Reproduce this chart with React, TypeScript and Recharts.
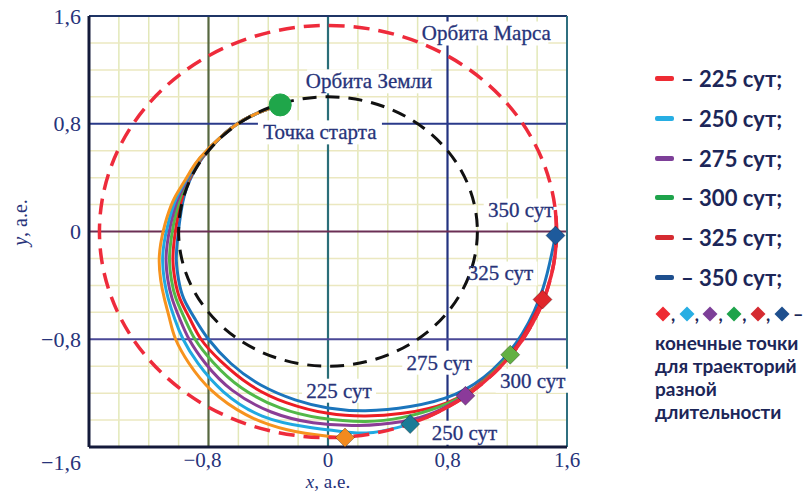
import { ComposedChart, XAxis, YAxis, Line, Scatter, ReferenceLine, ReferenceArea, ReferenceDot } from "recharts";

// axis ticks, a.u.
const axisTicks = [-1.6, -0.8, 0, 0.8, 1.6];
const xTicks = [-0.8, 0, 0.8, 1.6];
const minorTicks = [-1.4, -1.2, -1.0, -0.6, -0.4, -0.2, 0.2, 0.4, 0.6, 1.0, 1.2, 1.4];
const majorX = [-0.8, 0, 0.8];
const majorY = [0.8, 0, -0.8];

const earthOrbitR = 1.0;
const marsOrbitR = 1.53;
const marsSolidArc = [-69, 6]; // degrees, part of Mars orbit drawn solid

const startPoint = { x: -0.32, y: 0.94 };

const days = ["225", "250", "275", "300", "325", "350"];

const launchArc = [
  { x: -0.32, y: 0.94 },
  { x: -0.52, y: 0.855 },
  { x: -0.7, y: 0.72 },
];

const traj225 = [
  ...launchArc,
  { x: -0.856, y: 0.55 }, { x: -0.925, y: 0.44 }, { x: -0.985, y: 0.33 }, { x: -1.04, y: 0.22 },
  { x: -1.09, y: 0.06 }, { x: -1.12, y: -0.09 }, { x: -1.13, y: -0.22 }, { x: -1.12, y: -0.36 },
  { x: -1.095, y: -0.5 }, { x: -1.06, y: -0.65 }, { x: -1.02, y: -0.8 }, { x: -0.93, y: -0.98 },
  { x: -0.78, y: -1.18 }, { x: -0.55, y: -1.36 }, { x: -0.28, y: -1.47 }, { x: 0.0, y: -1.52 },
  { x: 0.114, y: -1.53 },
];
const traj250 = [
  ...launchArc,
  { x: -0.853, y: 0.55 }, { x: -0.92, y: 0.44 }, { x: -0.977, y: 0.33 }, { x: -1.026, y: 0.22 },
  { x: -1.07, y: 0.06 }, { x: -1.098, y: -0.09 }, { x: -1.107, y: -0.22 }, { x: -1.096, y: -0.36 },
  { x: -1.069, y: -0.5 }, { x: -1.026, y: -0.65 }, { x: -0.97, y: -0.8 }, { x: -0.87, y: -0.98 },
  { x: -0.7, y: -1.19 }, { x: -0.44, y: -1.37 }, { x: -0.15, y: -1.45 }, { x: 0.05, y: -1.48 },
  { x: 0.28, y: -1.495 }, { x: 0.55, y: -1.43 },
];
const traj275 = [
  ...launchArc,
  { x: -0.85, y: 0.55 }, { x: -0.915, y: 0.44 }, { x: -0.968, y: 0.33 }, { x: -1.012, y: 0.22 },
  { x: -1.052, y: 0.06 }, { x: -1.076, y: -0.09 }, { x: -1.084, y: -0.22 }, { x: -1.072, y: -0.36 },
  { x: -1.043, y: -0.5 }, { x: -0.992, y: -0.65 }, { x: -0.93, y: -0.8 }, { x: -0.82, y: -0.98 },
  { x: -0.64, y: -1.18 }, { x: -0.38, y: -1.34 }, { x: -0.1, y: -1.42 }, { x: 0.2, y: -1.44 },
  { x: 0.5, y: -1.41 }, { x: 0.72, y: -1.34 }, { x: 0.92, y: -1.22 },
];
const traj300 = [
  ...launchArc,
  { x: -0.846, y: 0.55 }, { x: -0.91, y: 0.44 }, { x: -0.96, y: 0.33 }, { x: -0.998, y: 0.22 },
  { x: -1.033, y: 0.06 }, { x: -1.054, y: -0.09 }, { x: -1.061, y: -0.22 }, { x: -1.048, y: -0.36 },
  { x: -1.017, y: -0.5 }, { x: -0.958, y: -0.65 }, { x: -0.89, y: -0.8 }, { x: -0.77, y: -0.97 },
  { x: -0.58, y: -1.16 }, { x: -0.32, y: -1.31 }, { x: -0.05, y: -1.385 }, { x: 0.25, y: -1.41 },
  { x: 0.5, y: -1.38 }, { x: 0.75, y: -1.3 }, { x: 1.0, y: -1.15 }, { x: 1.22, y: -0.915 },
];
const traj325 = [
  ...launchArc,
  { x: -0.842, y: 0.55 }, { x: -0.905, y: 0.44 }, { x: -0.952, y: 0.33 }, { x: -0.984, y: 0.22 },
  { x: -1.014, y: 0.06 }, { x: -1.032, y: -0.09 }, { x: -1.038, y: -0.22 }, { x: -1.024, y: -0.36 },
  { x: -0.991, y: -0.5 }, { x: -0.924, y: -0.65 }, { x: -0.85, y: -0.8 }, { x: -0.72, y: -0.96 },
  { x: -0.52, y: -1.14 }, { x: -0.28, y: -1.27 }, { x: 0.0, y: -1.35 }, { x: 0.25, y: -1.37 },
  { x: 0.5, y: -1.35 }, { x: 0.8, y: -1.27 }, { x: 1.05, y: -1.1 }, { x: 1.27, y: -0.84 },
  { x: 1.436, y: -0.505 },
];
const traj350 = [
  ...launchArc,
  { x: -0.838, y: 0.55 }, { x: -0.9, y: 0.44 }, { x: -0.944, y: 0.33 }, { x: -0.972, y: 0.22 },
  { x: -0.995, y: 0.06 }, { x: -1.01, y: -0.09 }, { x: -1.015, y: -0.22 }, { x: -1.0, y: -0.36 },
  { x: -0.965, y: -0.5 }, { x: -0.89, y: -0.65 }, { x: -0.8, y: -0.8 }, { x: -0.65, y: -0.98 },
  { x: -0.45, y: -1.14 }, { x: -0.22, y: -1.25 }, { x: 0.0, y: -1.31 }, { x: 0.25, y: -1.33 },
  { x: 0.55, y: -1.3 }, { x: 0.85, y: -1.21 }, { x: 1.1, y: -1.03 }, { x: 1.3, y: -0.76 },
  { x: 1.44, y: -0.42 }, { x: 1.523, y: -0.03 },
];
const trajectories = [traj225, traj250, traj275, traj300, traj325, traj350];

const endPoints = [
  { x: 0.114, y: -1.53 },
  { x: 0.55, y: -1.43 },
  { x: 0.92, y: -1.22 },
  { x: 1.22, y: -0.915 },
  { x: 1.436, y: -0.505 },
  { x: 1.523, y: -0.03 },
];

const annotations = [
  { text: "Орбита Марса", x: 1.06, y: 1.47 },
  { text: "Орбита Земли", x: 0.275, y: 1.115 },
  { text: "Точка старта", x: -0.054, y: 0.736 },
  { text: "350 сут", x: 1.29, y: 0.156 },
  { text: "325 сут", x: 1.154, y: -0.312 },
  { text: "275 сут", x: 0.745, y: -0.974 },
  { text: "300 сут", x: 1.37, y: -1.108 },
  { text: "225 сут", x: 0.074, y: -1.182 },
  { text: "250 сут", x: 0.913, y: -1.494 },
];

const curveColors = ["#f7931e", "#20a9e1", "#8a3d96", "#52b848", "#ed1c24", "#1b75bc"];
const markerColors = ["#f28a1e", "#1a7b96", "#8b3a9a", "#62b043", "#e0262b", "#1d5a9c"];
const legendColors = ["#ee2b33", "#27aee3", "#7d3f98", "#1ea34b", "#d52b31", "#1e4f8e"];

const serif = '"Liberation Serif", "Times New Roman", serif';
const ink = "#27337a";
const W = 811;
const H = 492;

const fmt = (v: number) =>
  v === 0 ? "0" : (v < 0 ? "\u2212" : "") + Math.abs(v).toFixed(1).replace(".", ",");

const XTick = ({ x, y, payload }: any) => (
  <text x={x + (payload.value < 0 ? -6 : 0)} y={y} dy="0.55em" textAnchor="middle" fontFamily={serif} fontSize={21} fill={ink}>
    {fmt(payload.value)}
  </text>
);

const YTick = ({ x, y, payload }: any) => (
  <text x={x} y={y + (payload.value === -1.6 ? 15 : 0)} dy="0.35em" textAnchor="end" fontFamily={serif} fontSize={22} fill={ink}>
    {fmt(payload.value)}
  </text>
);

const XTitle = (props: any) => {
  const vb = props.viewBox;
  return (
    <text x={vb.x + vb.width / 2} y={vb.y + 41} textAnchor="middle" fontFamily={serif} fontSize={19} fill={ink}>
      <tspan fontStyle="italic">x</tspan>, а.е.
    </text>
  );
};

const YTitle = (props: any) => {
  const vb = props.viewBox;
  const cx = vb.x + 20;
  const cy = vb.y + vb.height / 2 - 9;
  return (
    <text x={cx} y={cy} transform={`rotate(-90 ${cx} ${cy})`} textAnchor="middle" dominantBaseline="central" fontFamily={serif} fontSize={20} fill={ink}>
      <tspan fontStyle="italic">y</tspan>, а.е.
    </text>
  );
};

const orbitShape = (stroke: string, dash: string, width: number) => (p: any) => (
  <ellipse
    cx={p.x + p.width / 2}
    cy={p.y + p.height / 2}
    rx={p.width / 2}
    ry={p.height / 2}
    fill="none"
    stroke={stroke}
    strokeWidth={width}
    strokeDasharray={dash}
  />
);

const arcShape = (fromDeg: number, toDeg: number, stroke: string, width: number) => (p: any) => {
  const rx = p.width / 2;
  const ry = p.height / 2;
  const cx = p.x + rx;
  const cy = p.y + ry;
  const a0 = (fromDeg * Math.PI) / 180;
  const a1 = (toDeg * Math.PI) / 180;
  const x0 = cx + rx * Math.cos(a0);
  const y0 = cy - ry * Math.sin(a0);
  const x1 = cx + rx * Math.cos(a1);
  const y1 = cy - ry * Math.sin(a1);
  return <path d={`M${x0},${y0} A${rx},${ry} 0 0 0 ${x1},${y1}`} fill="none" stroke={stroke} strokeWidth={width} />;
};

const diamondShape = (p: any) => {
  const s = 9.5;
  const { cx, cy, fill } = p;
  return (
    <polygon
      points={`${cx},${cy - s} ${cx + s},${cy} ${cx},${cy + s} ${cx - s},${cy}`}
      fill={fill}
      stroke="rgba(0,0,0,0.3)"
      strokeWidth={1}
    />
  );
};

const boxShape = (text: string) => (p: any) => {
  const w = text.length * 10 + 4;
  return <rect x={p.cx - w / 2} y={p.cy - 12} width={w} height={24} fill="#fff" />;
};

const textShape = (text: string) => (p: any) => (
  <text x={p.cx} y={p.cy} dy="0.33em" textAnchor="middle" fontFamily={serif} fontSize={21} fill={ink} stroke={ink} strokeWidth={0.3}>
    {text}
  </text>
);

const SmallDiamond = ({ color }: { color: string }) => (
  <svg width={16} height={16} style={{ verticalAlign: "middle" }}>
    <polygon points="8,0.5 15.5,8 8,15.5 0.5,8" fill={color} />
  </svg>
);

export default function App() {
  // drawn from 350 to 225 so the orange curve lies on top along the shared launch arc
  const order = [5, 4, 3, 2, 1, 0];
  return (
    <div style={{ position: "absolute", left: 0, top: 0, width: W, height: H, background: "#fff" }}>
      <style>{"body{margin:0}"}</style>
      <ComposedChart width={W} height={H} margin={{ top: 16, right: 244, bottom: 0, left: 0 }}>
        <XAxis
          type="number"
          dataKey="x"
          domain={[-1.6, 1.6]}
          ticks={xTicks}
          allowDataOverflow
          height={45}
          tickLine={false}
          tick={<XTick />}
          axisLine={{ stroke: "#141a3a", strokeWidth: 3 }}
          label={{ content: <XTitle /> }}
        />
        <YAxis
          type="number"
          dataKey="y"
          domain={[-1.6, 1.6]}
          ticks={axisTicks}
          allowDataOverflow
          width={89}
          tickLine={false}
          tick={<YTick />}
          axisLine={{ stroke: "#141a3a", strokeWidth: 3 }}
          label={{ content: <YTitle /> }}
        />

        {minorTicks.map((v) => (
          <ReferenceLine key={"mx" + v} x={v} stroke="#e3e8b9" strokeWidth={1.5} zIndex={-95} />
        ))}
        {minorTicks.map((v) => (
          <ReferenceLine key={"my" + v} y={v} stroke="#ebe8c0" strokeWidth={1.5} zIndex={-95} />
        ))}
        {majorX.map((v, i) => (
          <ReferenceLine key={"MX" + v} x={v} stroke={["#56673f", "#2a6e78", "#233380"][i]} strokeWidth={2.2} zIndex={-90} />
        ))}
        {majorY.map((v, i) => (
          <ReferenceLine key={"MY" + v} y={v} stroke={["#2a3a8a", "#6b2f55", "#4a4896"][i]} strokeWidth={2.2} zIndex={-90} />
        ))}
        <ReferenceLine y={1.6} stroke="#1f3566" strokeWidth={2} zIndex={-85} />
        <ReferenceLine x={1.6} stroke="#2f6f7f" strokeWidth={2} zIndex={-85} />

        {annotations.map((a) => (
          <ReferenceDot key={"b" + a.text} x={a.x} y={a.y} r={0} shape={boxShape(a.text)} zIndex={-80} />
        ))}

        {order.map((i) => (
          <Line
            key={days[i]}
            data={trajectories[i]}
            dataKey="y"
            type="natural"
            stroke={curveColors[i]}
            strokeWidth={3}
            dot={false}
            activeDot={false}
            isAnimationActive={false}
            zIndex={400}
          />
        ))}

        <ReferenceArea
          x1={-earthOrbitR}
          x2={earthOrbitR}
          y1={-earthOrbitR}
          y2={earthOrbitR}
          shape={orbitShape("#111", "14 9", 3)}
          zIndex={500}
        />
        <ReferenceArea
          x1={-marsOrbitR}
          x2={marsOrbitR}
          y1={-marsOrbitR}
          y2={marsOrbitR}
          shape={orbitShape("#ee2b3b", "16 9", 3.5)}
          zIndex={500}
        />
        <ReferenceArea
          x1={-marsOrbitR}
          x2={marsOrbitR}
          y1={-marsOrbitR}
          y2={marsOrbitR}
          shape={arcShape(marsSolidArc[0], marsSolidArc[1], "#ee2b3b", 3.5)}
          zIndex={510}
        />

        {endPoints.map((p, i) => (
          <Scatter
            key={"e" + days[i]}
            data={[p]}
            fill={markerColors[i]}
            shape={diamondShape}
            isAnimationActive={false}
            zIndex={600}
          />
        ))}

        <ReferenceDot x={startPoint.x} y={startPoint.y} r={11} fill="#1fa64a" stroke="#1fa64a" zIndex={650} />

        {annotations.map((a) => (
          <ReferenceDot key={"t" + a.text} x={a.x} y={a.y} r={0} shape={textShape(a.text)} zIndex={700} />
        ))}
      </ComposedChart>

      <div
        style={{
          position: "absolute",
          left: 655,
          top: 59,
          fontFamily: 'Lato, "Noto Sans", sans-serif',
          fontWeight: 700,
          color: "#1c2658",
        }}
      >
        {days.map((d, i) => (
          <div key={d} style={{ display: "flex", alignItems: "center", height: 39.7, fontSize: 22 }}>
            <span style={{ display: "inline-block", width: 19, height: 5, borderRadius: 2, background: legendColors[i], marginRight: 7 }} />
            <span>– {d} сут;</span>
          </div>
        ))}
        <div style={{ display: "flex", alignItems: "center", height: 34, fontSize: 18 }}>
          {legendColors.map((c, i) => (
            <span key={c + i} style={{ display: "inline-flex", alignItems: "center" }}>
              <SmallDiamond color={c} />
              <span style={{ marginRight: 3.5 }}>{i < legendColors.length - 1 ? "," : ""}</span>
            </span>
          ))}
          <span>–</span>
        </div>
        <div style={{ fontSize: 19, lineHeight: "23px" }}>
          конечные точки
          <br />
          для траекторий
          <br />
          разной
          <br />
          длительности
        </div>
      </div>
    </div>
  );
}
